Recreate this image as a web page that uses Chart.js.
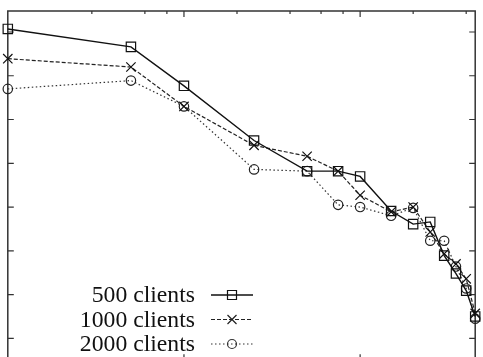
<!DOCTYPE html>
<html>
<head>
<meta charset="utf-8">
<script src="https://cdn.jsdelivr.net/npm/chart.js@4/dist/chart.umd.min.js"></script>
<style>
html,body{margin:0;padding:0;background:#fff;overflow:hidden;}
#wrap{width:483px;height:357px;overflow:hidden;}
</style>
</head>
<body>
<div id="wrap"><canvas id="plot" width="483" height="368"></canvas></div>
<script>

/* =====================
   Data
===================== */

const xValues=[1,5,10,25,50,75,100,150,200,250,300,350,400,450];

const clients500=[7.07,6.66,5.77,4.52,3.82,3.82,3.70,2.91,2.61,2.66,1.89,1.48,1.09,0.50];

const clients1000=[6.39,6.20,5.30,4.41,4.16,3.82,3.27,2.89,3.00,2.43,1.93,1.70,1.36,0.57];

const clients2000=[5.70,5.89,5.30,3.86,3.82,3.05,3.00,2.80,2.98,2.23,2.23,1.64,1.14,0.45];

const seriesNames=["500 clients","1000 clients","2000 clients"];

const xMin=1, xMax=450;

const yMin=-0.5, yMax=7.48;



function pairs(ys){

return xValues.map((x,i)=>({x:x,y:ys[i]}));

}



/* =====================
   Frame + inward ticks
===================== */

const framePlugin={

id:"frame",

beforeDatasetsDraw(chart){

const ctx=chart.ctx;

const a=chart.chartArea;

const xs=chart.scales.x;

const ys=chart.scales.y;

ctx.save();

ctx.strokeStyle="#333";

ctx.lineWidth=1.5;

ctx.strokeRect(a.left,a.top,a.right-a.left,a.bottom-a.top);

ctx.lineWidth=1.2;

ctx.beginPath();

xs.ticks.forEach(t=>{

let v=t.value;

let p=Math.pow(10,Math.floor(Math.log10(v)+1e-9));

let s=v/p;

if(Math.abs(s-Math.round(s))>1e-6) return;

let len=(Math.round(s)===1)?6:3;

let px=xs.getPixelForValue(v);

if(px<=a.left+1||px>=a.right-1) return;

ctx.moveTo(px,a.top);ctx.lineTo(px,a.top+len);

ctx.moveTo(px,a.bottom);ctx.lineTo(px,a.bottom-len);

});

ys.ticks.forEach(t=>{

if(Math.abs(t.value-Math.round(t.value))>1e-6) return;

let py=ys.getPixelForValue(t.value);

ctx.moveTo(a.left,py);ctx.lineTo(a.left+6,py);

ctx.moveTo(a.right,py);ctx.lineTo(a.right-6,py);

});

ctx.stroke();

ctx.restore();

}

};



/* =====================
   Legend (gnuplot style)
===================== */

function drawMarker(ctx,style,x,y){

ctx.beginPath();

if(style==="rect"){

ctx.rect(x-4.5,y-4.5,9,9);

}else if(style==="crossRot"){

ctx.moveTo(x-4.5,y-4.5);ctx.lineTo(x+4.5,y+4.5);

ctx.moveTo(x+4.5,y-4.5);ctx.lineTo(x-4.5,y+4.5);

}else{

ctx.arc(x,y,4.5,0,Math.PI*2);

}

ctx.stroke();

}



const legendPlugin={

id:"gpLegend",

afterDatasetsDraw(chart){

const ctx=chart.ctx;

ctx.save();

ctx.font="23.7px 'Liberation Serif'";

ctx.textAlign="right";

ctx.textBaseline="middle";

chart.data.datasets.forEach((ds,i)=>{

let y=295+i*24.5;

ctx.fillStyle="#111";

ctx.fillText(ds.label,195,y+1);

ctx.strokeStyle=ds.borderColor;

ctx.lineWidth=ds.borderWidth;

ctx.setLineDash(ds.borderDash||[]);

ctx.beginPath();

ctx.moveTo(211,y);ctx.lineTo(253,y);

ctx.stroke();

ctx.setLineDash([]);

ctx.lineWidth=1.2;

drawMarker(ctx,ds.pointStyle,232,y);

});

ctx.restore();

}

};



/* =====================
   Chart
===================== */

const ctx=document.getElementById("plot").getContext("2d");

let chart=new Chart(ctx,{

type:"line",

data:{

datasets:[

{
label:seriesNames[0],
data:pairs(clients500),
borderColor:"#111",
borderWidth:1.4,
pointStyle:"rect",
pointRadius:6.6,
pointBorderColor:"#111",
pointBackgroundColor:"rgba(0,0,0,0)",
pointBorderWidth:1.2,
clip:false
},

{
label:seriesNames[1],
data:pairs(clients1000),
borderColor:"#222",
borderWidth:1.2,
borderDash:[4,2],
pointStyle:"crossRot",
pointRadius:6.6,
pointBorderColor:"#111",
pointBorderWidth:1.2,
clip:false
},

{
label:seriesNames[2],
data:pairs(clients2000),
borderColor:"#333",
borderWidth:1.2,
borderDash:[1.5,2.5],
pointStyle:"circle",
pointRadius:4.7,
pointBorderColor:"#222",
pointBackgroundColor:"rgba(0,0,0,0)",
pointBorderWidth:1.2,
clip:false
}

]

},

options:{

responsive:false,

animation:false,

events:[],

layout:{padding:{left:4,top:11,right:6,bottom:6}},

plugins:{legend:{display:false},tooltip:{enabled:false}},

scales:{

x:{type:"logarithmic",min:xMin,max:xMax,display:false},

y:{type:"linear",min:yMin,max:yMax,display:false,ticks:{stepSize:1}}

}

},

plugins:[framePlugin,legendPlugin]

});

</script>
</body>
</html>
